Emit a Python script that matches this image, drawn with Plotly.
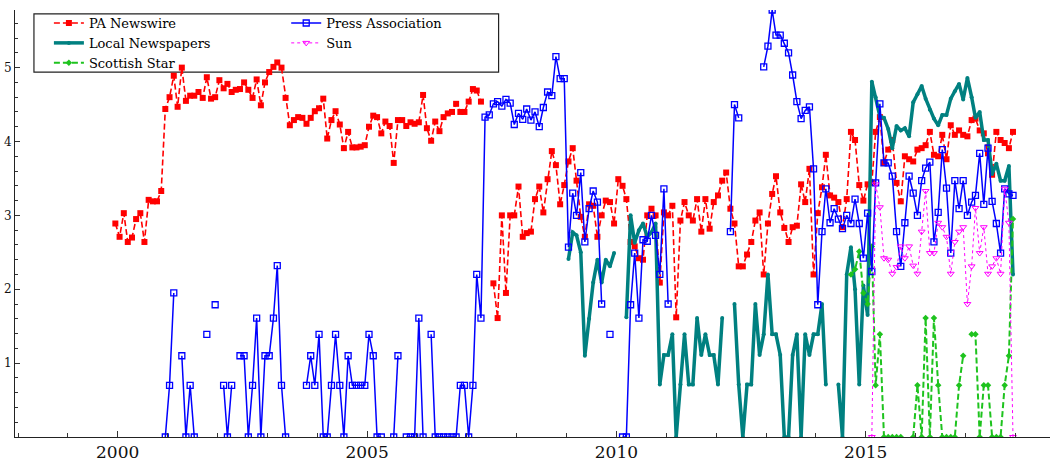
import pandas as pd
import plotly.graph_objects as go

# ---------------- data (monthly values) ----------------
first_month = "1999-12-01"   # month index 0
n_months = 217

pa_start = 0
pa_newswire = [
    2.89, 2.71, 3.03, 2.64, 2.70, 2.95, 3.03, 2.64, 3.21, 3.19,
    3.19, 3.33, 4.44, 4.60, 4.89, 4.47, 5.00, 4.55, 4.62, 4.62,
    4.67, 4.59, 4.87, 4.58, 4.60, 4.83, 4.72, 4.78, 4.67, 4.70,
    4.71, 4.80, 4.70, 4.59, 4.84, 4.49, 4.80, 4.94, 5.01, 5.07,
    5.00, 4.59, 4.22, 4.29, 4.33, 4.32, 4.24, 4.32, 4.41, 4.45,
    4.58, 4.04, 4.29, 4.41, 4.23, 3.91, 4.13, 3.92, 3.92, 3.93,
    3.95, 4.20, 4.35, 4.33, 4.11, 4.27, 4.21, 3.71, 4.29, 4.29,
    4.21, 4.26, 4.24, 4.26, 4.63, 4.18, 4.01, 4.27, 4.14, 4.33,
    4.38, 4.40, 4.51, 4.40, 4.40, 4.54, 4.71, 4.69, 4.54,
    None, None,
    2.08, 1.61, 3.00, 1.95, 3.00, 3.00, 3.39, 2.71, 2.76, 2.78,
    3.22, 3.39, 3.04, 3.49, 3.87, 3.68, 3.15, 3.41, 3.73, 3.91,
    3.47, 2.98, 2.71, 3.15, 3.13, 2.71, 3.00, 3.20, 3.18, 2.89,
    3.49, 3.40, 3.22, 2.64, 2.58, 2.42, 2.40, 3.00, 3.09, 3.00,
    2.09, 3.04, 3.00, 3.13, 1.62, 2.93, 3.18, 3.00, 2.93, 3.22,
    2.78, 3.22, 2.82, 3.18, 3.27, 3.47, 3.58, 3.09, 2.89, 2.31,
    2.31, 2.47, 2.64, 2.93, 3.04, 2.20, 2.89, 3.29, 3.53, 3.04,
    2.83, 2.64, 2.84,
    2.86, 3.42, 3.18, 3.63, 2.20, 3.03, 3.38, 3.82, 3.27, 3.24,
    3.18, 2.84, 3.22, 4.13, 4.02, 3.41, 3.20, 3.42, 3.44, 4.13,
    4.33, 3.71, 3.89, 4.02, 3.44, 3.19, 3.80, 3.76, 3.73, 3.89,
    3.91, 3.95, 4.13, 3.82, 3.80, 4.09, 3.76, 4.22, 4.09, 4.15,
    4.09, 4.07, 4.29, 4.31, 4.15, 4.11, 3.84, 3.55, 4.13, 4.02,
    3.98, 3.91, 4.13,
]

press_start = 12
press_association = [
    0.0, 0.7, 1.95, None, 1.1, 0.0, 0.7, 0.0, None, None,
    1.39, None, 1.79, None, 0.7, 0.0, 0.7, None, 1.1, 1.1,
    0.0, 0.7, 1.61, 0.0, 1.1, 1.1, 1.61, 2.32, 0.7, 0.0,
    None, None, None, None, 0.7, 1.1, 0.7, 1.39, 0.0, 0.0,
    0.7, 1.39, 0.7, 0.0, 1.1, 0.7, 0.7, 0.7, 0.7, 1.39,
    1.1, 0.0, 0.0, None, None, 0.0, 1.1, None, 0.0, 0.0,
    0.0, 1.61, 0.0, None, 1.39, 0.0, 0.0, 0.0, 0.0, 0.0,
    0.0, 0.7, 0.7, 0.0, 0.7, 2.2, 1.61, 4.33, 4.36, 4.51,
    4.54, 4.48, 4.57, 4.52, 4.23, 4.38, 4.30, 4.44, 4.29, 4.40,
    4.20, 4.46, 4.67, 4.62, 5.15, 4.85, 4.85, 2.57, 3.30, 3.00,
    3.58, 2.64, 3.09, 3.33, 3.18, 1.80, None, 1.39, None, None,
    0.0, 0.0, 1.79, 2.49, 1.61, 2.67, 2.65, 3.00, 2.73, 2.20,
    3.36, 1.80, None, None, None, None, None, None, None, None,
    None, None, None, None, None, None, 2.78, 4.50, 4.32, None,
    None, None, None, None, 5.01, 5.29, 5.78, 5.44, 5.44, 5.33,
    5.20, 4.90, 4.54, 4.31, 4.42, 4.47, 3.63, 1.79, 2.78, 3.36,
    2.90, 3.09, 2.95, 2.82, 3.00, 2.89, 3.22, 2.89, 2.42, 3.03,
    2.24, 3.44, 4.51, 3.71, 3.71, 3.53, 2.78, 2.31, 2.90, 3.53,
    3.30, 3.00, 3.47, 3.64, 3.72, 2.64, 3.04, 3.89, 3.37, 2.49,
    3.47, 3.09, 3.47, 3.00, 3.18, 3.27, 3.84, 3.15, 3.91, 3.19,
    2.89, 2.49, 3.36, 3.29, 3.27,
]

local_start = 109
local_newspapers = [
    2.41, 2.77, 2.73, 2.50, 1.10, 1.60, 2.09, 2.40, 2.09, 2.40,
    2.31, 2.49, None, None, 1.62, 3.00, 2.63, 2.80, 2.89, 2.71,
    2.77, 2.89, 0.71, 1.11, 1.11, 1.39, 0.0, 0.71, 1.39, 0.71,
    0.71, 1.61, 1.11, 1.39, 1.11, 1.11, 0.71, 1.61, None, None,
    1.80, 0.71, 0.0, 0.71, 0.71, 1.80, 1.11, 1.39, 2.20, 1.39,
    1.39, 1.11, 0.0, 0.0, 1.11, 1.39, 0.0, 1.39, 1.11, 1.39,
    1.39, 1.80, 0.71, None, None, 0.71, 0.0, 2.20, 2.57, 2.00,
    0.71, 2.05, 1.65, 4.81, 4.60, 4.34, 4.32, 4.17, 3.91, 4.21,
    4.15, 4.18, 4.07, 4.53, 4.64, 4.75, 4.58, 4.43, 4.31, 4.22,
    4.36, 4.36, 4.58, 4.68, 4.78, 4.57, 4.86, 4.60, 4.32, 4.40,
    4.02, 4.02, 3.56, 3.70, 3.47, 3.47, 3.67, 2.20,
]

sun_start = 182
sun = [
    0.0, 3.42, 3.11, 2.42, 2.40, 2.21, 2.30, 2.58, 2.42, 2.58,
    2.32, 2.21, 2.78, 3.33, 2.49, 2.49, 2.90, 2.84, 2.71, 2.21,
    2.64, 2.78, 2.84, 1.80, 2.31, 3.10, 2.49, 2.84, 2.21, 2.31,
    2.42, 2.21, 3.36, 2.90, 0.0,
]

scot_start = 177
scottish_star = [
    2.20, 2.27, 2.51, 1.95, 1.80, 2.58, 0.70, 1.39, 0.0, 0.0,
    0.0, 0.0, 0.0, None, None, 0.0, 0.70, 0.0, 1.61, 0.0,
    1.61, 0.70, 0.0, 0.0, 0.0, 0.0, 0.70, 1.10, None, 1.39,
    1.39, 0.0, 0.70, 0.70, 0.0, 0.0, 0.0, 0.70, 1.10, 2.95,
]

x_ticks = ["2000", "2005", "2010", "2015"]
y_ticks = [1, 2, 3, 4, 5]

# ---------------- build ----------------
months = pd.date_range(first_month, periods=n_months, freq="MS") + pd.Timedelta(days=14)


def dates(start, values):
    return months[start:start + len(values)]


SERIF = "DejaVu Serif"

fig = go.Figure()

fig.add_trace(go.Scatter(
    x=dates(pa_start, pa_newswire), y=pa_newswire, name="PA Newswire",
    mode="lines+markers", legend="legend",
    line=dict(color="#ff0000", width=1.6, dash="6px,3px"),
    marker=dict(symbol="square", size=6, color="#ff0000"),
))
fig.add_trace(go.Scatter(
    x=dates(local_start, local_newspapers), y=local_newspapers, name="Local Newspapers",
    mode="lines+markers", legend="legend",
    line=dict(color="#008080", width=3.5),
    marker=dict(symbol="circle", size=4, color="#008080"),
))
fig.add_trace(go.Scatter(
    x=dates(scot_start, scottish_star), y=scottish_star, name="Scottish Star",
    mode="lines+markers", legend="legend",
    line=dict(color="#1ec31e", width=2, dash="6px,3px"),
    marker=dict(symbol="diamond", size=5, color="#1ec31e"),
))
fig.add_trace(go.Scatter(
    x=dates(press_start, press_association), y=press_association, name="Press Association",
    mode="lines+markers", legend="legend2",
    line=dict(color="#0000ff", width=1.5),
    marker=dict(symbol="square-open", size=6, color="#0000ff", line=dict(width=1.3)),
))
fig.add_trace(go.Scatter(
    x=dates(sun_start, sun), y=sun, name="Sun",
    mode="lines+markers", legend="legend2",
    line=dict(color="#ff00ff", width=1, dash="dot"),
    marker=dict(symbol="triangle-down-open", size=6, color="#ff00ff", line=dict(width=1)),
))

L, R, T, B = 12, 4, 10, 23
W, H = 1054, 466
pw, ph = W - L - R, H - T - B


def px_x(p):
    return (p - L) / pw


def px_y(p):
    return (H - B - p) / ph


legend_font = dict(family=SERIF, size=13, color="#000000")

fig.update_layout(
    width=W, height=H,
    margin=dict(l=L, r=R, t=T, b=B, pad=0),
    paper_bgcolor="white", plot_bgcolor="white",
    showlegend=True,
    legend=dict(x=px_x(46), y=px_y(8), xanchor="left", yanchor="top",
                bgcolor="rgba(0,0,0,0)", borderwidth=0, font=legend_font,
                tracegroupgap=0),
    legend2=dict(x=px_x(284), y=px_y(8), xanchor="left", yanchor="top",
                 bgcolor="rgba(0,0,0,0)", borderwidth=0, font=legend_font,
                 tracegroupgap=0),
    shapes=[dict(type="rect", xref="paper", yref="paper",
                 x0=px_x(31), x1=px_x(497), y0=px_y(73), y1=px_y(14),
                 line=dict(color="#222222", width=1.2), fillcolor="white",
                 layer="below")],
    xaxis=dict(
        type="date",
        range=["1997-12-10", "2018-09-12"],
        tickmode="array",
        tickvals=[f"{t}-01-01" for t in x_ticks],
        ticktext=x_ticks,
        ticks="inside", ticklen=6, tickcolor="#333333",
        showline=True, linecolor="#222222", linewidth=1,
        showgrid=False, zeroline=False,
        tickfont=dict(family=SERIF, size=17, color="#111111"),
        minor=dict(dtick="M12", tick0="2000-01-01", ticks="inside", ticklen=4,
                   tickcolor="#333333", showgrid=False),
    ),
    yaxis=dict(
        range=[0, 5.78],
        tickmode="array", tickvals=y_ticks, ticktext=[str(v) for v in y_ticks],
        ticks="inside", ticklen=5, tickcolor="#333333",
        showline=True, linecolor="#222222", linewidth=1,
        showgrid=False, zeroline=False,
        tickfont=dict(family=SERIF, size=12, color="#111111"),
        minor=dict(dtick=0.2, tick0=0, ticks="inside", ticklen=3,
                   tickcolor="#333333", showgrid=False),
    ),
)

fig.write_html("out.html")
